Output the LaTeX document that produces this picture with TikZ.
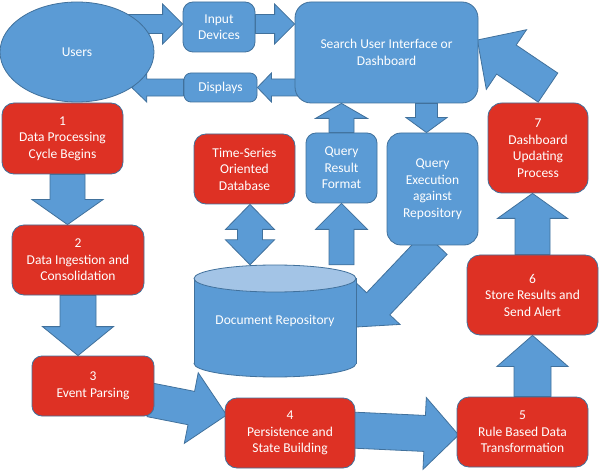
\documentclass[tikz,border=0pt]{standalone}
\usepackage{fontspec}
\setmainfont{Carlito}
\usetikzlibrary{shapes.geometric,calc}
\pgfdeclarelayer{background}
\pgfsetlayers{background,main}
\definecolor{flowblue}{HTML}{5B9BD5}
\definecolor{flowedge}{HTML}{41719C}
\definecolor{flowred}{HTML}{DE3124}
\definecolor{flowtop}{HTML}{A3C4E6}
\tikzset{
  box/.style={draw=flowedge, line width=0.8pt, fill=flowblue, rounded corners=10pt, text=white, align=center, inner sep=0pt, font=\fontsize{13.5}{16.5}\selectfont},
  redbox/.style={box, fill=flowred},
  fatarrow/.style={draw=flowedge, line width=0.8pt, fill=flowblue, line join=miter},
}
% block arrow: from, to, body half width, head half width, head length
\newcommand{\fatarrow}[5]{%
  \coordinate (fa-s) at (#1);
  \coordinate (fa-e) at (#2);
  \coordinate (fa-h) at ($(fa-e)!#5!(fa-s)$);
  \draw[fatarrow] ($(fa-s)!#3!90:(fa-e)$) -- ($(fa-h)!#3!90:(fa-e)$) -- ($(fa-h)!#4!90:(fa-e)$) -- (fa-e)
    -- ($(fa-h)!#4!-90:(fa-e)$) -- ($(fa-h)!#3!-90:(fa-e)$) -- ($(fa-s)!#3!-90:(fa-e)$) -- cycle;
}
% block arrow with two heads
\newcommand{\dblarrow}[5]{%
  \coordinate (fa-s) at (#1);
  \coordinate (fa-e) at (#2);
  \coordinate (fa-a) at ($(fa-s)!#5!(fa-e)$);
  \coordinate (fa-b) at ($(fa-e)!#5!(fa-s)$);
  \draw[fatarrow] (fa-s) -- ($(fa-a)!#4!90:(fa-e)$) -- ($(fa-a)!#3!90:(fa-e)$) -- ($(fa-b)!#3!-90:(fa-s)$)
    -- ($(fa-b)!#4!-90:(fa-s)$) -- (fa-e) -- ($(fa-b)!#4!90:(fa-s)$) -- ($(fa-b)!#3!90:(fa-s)$)
    -- ($(fa-a)!#3!-90:(fa-e)$) -- ($(fa-a)!#4!-90:(fa-e)$) -- cycle;
}
\begin{document}
\begin{tikzpicture}[x=1pt, y=-1pt]
\useasboundingbox (0,0) rectangle (600,473);
% users and dashboard
\node[box, ellipse, minimum width=154pt, minimum height=100pt] (users) at (77,52) {Users};
\node[box, minimum width=72pt, minimum height=50pt] (input) at (219,27) {Input\\Devices};
\node[box, minimum width=73pt, minimum height=29pt, rounded corners=7pt] (displays) at (220.5,87.5) {Displays};
\node[box, minimum width=183pt, minimum height=101pt, rounded corners=16pt] (search) at (386.5,52.5) {Search User Interface or\\Dashboard};
\node[box, minimum width=71pt, minimum height=70pt] (result) at (341.5,168) {Query\\Result\\Format};
\node[box, minimum width=91pt, minimum height=112pt, rounded corners=14pt] (execute) at (432.5,189) {Query\\Execution\\against\\Repository};
% processing cycle
\node[redbox, minimum width=121pt, minimum height=71pt, rounded corners=12pt] (step1) at (62.5,138.5) {1\\Data Processing\\Cycle Begins};
\node[redbox, minimum width=132pt, minimum height=70pt, rounded corners=12pt] (step2) at (78,260) {2\\Data Ingestion and\\Consolidation};
\node[redbox, minimum width=122pt, minimum height=60pt] (step3) at (93,386) {3\\Event Parsing};
\node[redbox, minimum width=130pt, minimum height=70pt, rounded corners=12pt] (step4) at (290,433) {4\\Persistence and\\State Building};
\node[redbox, minimum width=131pt, minimum height=70pt, rounded corners=12pt] (step5) at (522.5,432) {5\\Rule Based Data\\Transformation};
\node[redbox, minimum width=131pt, minimum height=80pt, rounded corners=13pt] (step6) at (532.5,295) {6\\Store Results and\\Send Alert};
\node[redbox, minimum width=100pt, minimum height=90pt, rounded corners=14pt] (step7) at (538,148) {7\\Dashboard\\Updating\\Process};
\node[redbox, minimum width=101pt, minimum height=70pt, rounded corners=12pt] (tsdb) at (244.5,169) {Time-Series\\Oriented\\Database};
% document repository
\draw[draw=flowedge, line width=0.8pt, fill=flowblue] (275,363.5) ellipse [x radius=81, y radius=13.5];
\fill[flowblue] (194,278.5) rectangle (356,363.5);
\draw[flowedge, line width=0.8pt] (194,278.5) -- (194,363.5) (356,278.5) -- (356,363.5);
\draw[draw=flowedge, line width=0.8pt, fill=flowtop] (275,278.5) ellipse [x radius=81, y radius=13.5];
\node[text=white, inner sep=0pt, minimum width=162pt, minimum height=112pt, font=\fontsize{13.5}{16.5}\selectfont] (repo) at (275,321) {\raisebox{-6pt}{Document Repository}};
\begin{pgfonlayer}{background}
\fill[white] (0,0) rectangle (600,473);
\fatarrow{$(users.center|-input.west)+(0,-3)$}{$(input.west)+(0,-3)$}{9.5pt}{20pt}{20pt}
\fatarrow{$(input.east)+(0,-3)$}{$(search.west|-input.east)+(0,-3)$}{9.5pt}{20pt}{20pt}
\fatarrow{$(search.west|-displays.east)+(5,0)$}{displays.east}{8.5pt}{14.5pt}{14pt}
\fatarrow{displays.west}{users.-33}{8.5pt}{14.5pt}{15pt}
\fatarrow{result.north}{result.north|-search.south}{12.5pt}{26pt}{15pt}
\fatarrow{$(execute.north|-search.south)+(-6,0)$}{$(execute.north)+(-6,0)$}{11pt}{20.5pt}{15pt}
\fatarrow{result.south|-repo.north}{result.south}{12.5pt}{26pt}{26pt}
\fatarrow{$(execute.south)+(3,-2)$}{$(repo.east)+(0,6)$}{16pt}{30pt}{32pt}
\dblarrow{$(tsdb.south)+(5.5,0)$}{$(tsdb.south|-repo.north)+(5.5,0)$}{12.5pt}{24.5pt}{25pt}
\fatarrow{$(step1.south)+(5,0)$}{$(step1.south|-step2.north)+(5,0)$}{17.5pt}{35.5pt}{25pt}
\fatarrow{step2.south}{step2.south|-step3.north}{18pt}{35.5pt}{29pt}
\fatarrow{$(step3.east)+(-4,14)$}{$(step4.west)+(2,-18)$}{17pt}{36pt}{36pt}
\fatarrow{$(step4.east)+(-5,-3)$}{$(step5.west)+(2,3)$}{18pt}{36pt}{34pt}
\fatarrow{step6.south|-step5.north}{step6.south}{18.5pt}{35.5pt}{31pt}
\fatarrow{step6.north}{step6.north|-step7.south}{17.5pt}{35pt}{25pt}
\fatarrow{$(step7.north)+(10,-15)$}{$(search.east)+(-1,-12.5)$}{17.5pt}{36pt}{35pt}
\end{pgfonlayer}
\end{tikzpicture}
\end{document}
